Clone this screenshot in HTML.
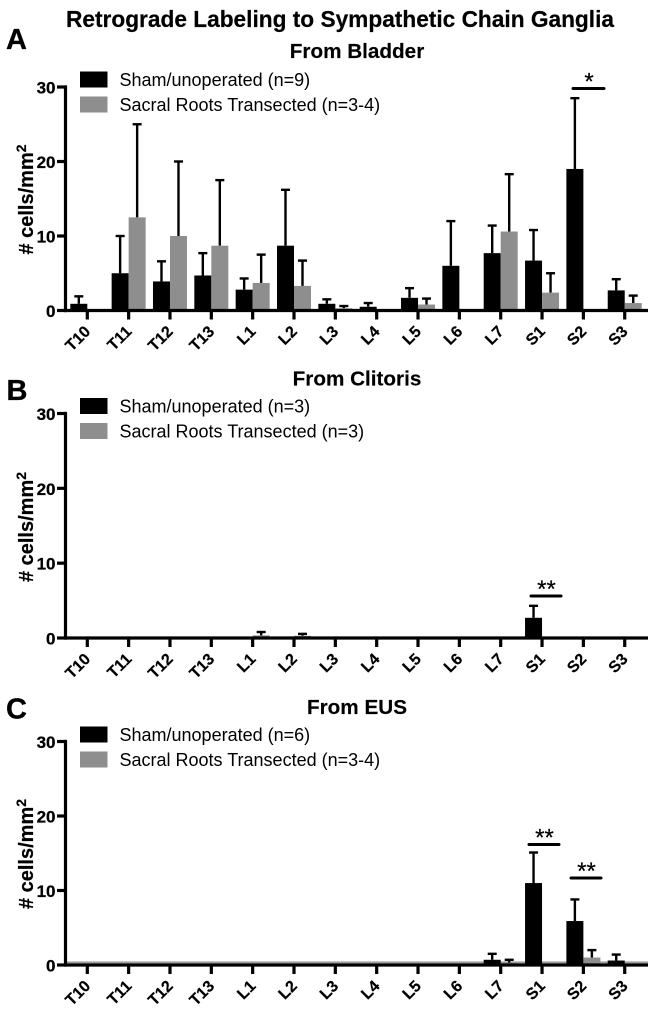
<!DOCTYPE html>
<html lang="en">
<head>
<meta charset="utf-8">
<title>Retrograde Labeling to Sympathetic Chain Ganglia</title>
<style>
html,body{margin:0;padding:0;background:#fff;width:652px;height:1017px;overflow:hidden}
svg{display:block}
text{font-family:"Liberation Sans",sans-serif;fill:#000}
</style>
</head>
<body>
<svg id="fig" xmlns="http://www.w3.org/2000/svg" width="652" height="1017" viewBox="0 0 652 1017">
<text x="340" y="27" text-anchor="middle" font-size="22.7" font-weight="700" stroke="#000" stroke-width="0.2" textLength="548" lengthAdjust="spacingAndGlyphs">Retrograde Labeling to Sympathetic Chain Ganglia</text>
</svg>
<script>
const categories = ["T10","T11","T12","T13","L1","L2","L3","L4","L5","L6","L7","S1","S2","S3"];
const yTicks = [0,10,20,30];

const bladderSham    = [0.9,5,3.9,4.7,2.8,8.7,0.9,0.5,1.7,6,7.7,6.7,19,2.7];
const bladderShamErr = [1.0,5,2.7,3.0,1.5,7.5,0.6,0.5,1.3,6,3.7,4.1,9.5,1.5];
const bladderCut     = [0,12.5,10,8.7,3.7,3.3,0.3,0,0.8,0,10.6,2.4,0,1];
const bladderCutErr  = [0,12.5,10,8.8,3.8,3.4,0.3,0,0.8,0,7.7,2.6,0,1];

const clitorisSham    = [0,0,0,0,0.1,0.2,0,0,0,0,0,2.7,0,0];
const clitorisShamErr = [0,0,0,0,0,0,0,0,0,0,0,1.6,0,0];
const clitorisCut     = [0,0,0,0,0.35,0.3,0,0,0,0,0,0,0,0];
const clitorisCutErr  = [0,0,0,0,0.45,0.25,0,0,0,0,0,0,0,0];

const eusSham    = [0,0,0,0,0,0,0,0,0,0,0.7,11,5.9,0.6];
const eusShamErr = [0,0,0,0,0,0,0,0,0,0,0.8,4.1,2.9,0.8];
const eusCut     = [0,0,0,0,0,0,0,0,0,0,0.3,0,1,0];
const eusCutErr  = [0,0,0,0,0,0,0,0,0,0,0.4,0,1,0];

const SVGNS = "http://www.w3.org/2000/svg";
const fig = document.getElementById("fig");
const BLACK = "#000";
const GRAY = "#8e8e8e";

function mk(tag, attrs, parent, txt){
  const el = document.createElementNS(SVGNS, tag);
  for (const k in attrs) el.setAttribute(k, attrs[k]);
  if (txt !== undefined) el.textContent = txt;
  (parent || fig).appendChild(el);
  return el;
}

function drawPanel(p){
  const g = mk("g", {});
  
  
  const yScale = v => p.y0 - v * (p.y0 - p.y30) / 30;
  const xScale = i => 87.3 + i * 41.34;
  const BW = 17;

  const letter = mk("text", {x:p.letterX, y:p.letterY, "font-size":29, "font-weight":700, stroke:"#000", "stroke-width":0.3}, g, p.letter);
  
  

  const title = mk("text", {x:357, y:p.titleY, "text-anchor":"middle", "font-size":20.7, "font-weight":700, stroke:"#000", "stroke-width":0.15}, g, p.title);
  
  

  // legend
  const l1 = mk("rect", {x:80, y:p.legY, width:27.5, height:16, fill:BLACK}, g);
  
  
  const t1 = mk("text", {x:119.5, y:p.legY + 14.5, "font-size":18, fill:"#111"}, g, p.leg1);
  
  
  const l2 = mk("rect", {x:80, y:p.legY + 25, width:27.5, height:16, fill:GRAY}, g);
  
  
  const t2 = mk("text", {x:119.5, y:p.legY + 39.5, "font-size":18, fill:"#111"}, g, p.leg2);
  
  

  if (p.haze){
    const hz = mk("line", {x1:66, x2:648, y1:p.y0 - 2.6, y2:p.y0 - 2.6, stroke:"#a0a0a0", "stroke-width":2}, g);
    
    
  }

  // bars and error bars
  function series(vals, errs, color, side, name){
    vals.forEach((v, i) => {
      const cx = xScale(i);
      const x0 = side === 0 ? cx - BW : cx;
      const mid = x0 + BW / 2;
      if (errs[i] > 0){
        const top = yScale(v + errs[i]);
        const ev = mk("line", {x1:mid, x2:mid, y1:yScale(v), y2:top, stroke:"#000", "stroke-width":2.4}, g);
        
        
        const cap = mk("line", {x1:mid - 4.5, x2:mid + 4.5, y1:top, y2:top, stroke:"#000", "stroke-width":2.4}, g);
        
        
      }
      if (v > 0){
        const r = mk("rect", {x:x0, y:yScale(v), width:BW, height:p.y0 - yScale(v), fill:color}, g);
        
        
      }
    });
  }
  series(p.sham, p.shamErr, BLACK, 0, "sham");
  series(p.cut, p.cutErr, GRAY, 1, "transected");

  // axes
  const xa = mk("line", {x1:65, x2:648, y1:p.y0, y2:p.y0, stroke:"#000", "stroke-width":3.2}, g);
  
  
  const ya = mk("line", {x1:65.5, x2:65.5, y1:p.y30 - 1.6, y2:p.y0 + 1.6, stroke:"#000", "stroke-width":3.2}, g);
  
  

  yTicks.forEach(v => {
    const tk = mk("line", {x1:57, x2:66, y1:yScale(v), y2:yScale(v), stroke:"#000", "stroke-width":3.2}, g);
    
    
    const lb = mk("text", {x:55.5, y:yScale(v) + 6.5, "text-anchor":"end", "font-size":17, "font-weight":700, stroke:"#000", "stroke-width":0.25}, g, String(v));
    
    
  });

  categories.forEach((c, i) => {
    const x = xScale(i);
    const tk = mk("line", {x1:x, x2:x, y1:p.y0, y2:p.y0 + 9, stroke:"#000", "stroke-width":3.2}, g);
    
    
    const ly = p.y0 + 22;
    const lx = x + 4;
    const lb = mk("text", {x:lx, y:ly, "text-anchor":"end", "font-size":16, "font-weight":700, stroke:"#000", "stroke-width":0.2, transform:"rotate(-45 " + lx + " " + ly + ")"}, g, c);
    
    
  });

  // y title
  const yc = p.y0 - 111;
  const yt = mk("text", {x:33, y:yc, "text-anchor":"middle", "font-size":20, "font-weight":700, stroke:"#000", "stroke-width":0.2, transform:"rotate(-90 33 " + yc + ")"}, g, "# cells/mm");
  
  
  const sup = mk("tspan", {dy:-7, "font-size":14}, yt, "2");
  
  

  // significance markers
  p.sig.forEach(s => {
    const b = mk("line", {x1:s.x1, x2:s.x2, y1:s.y, y2:s.y, stroke:"#000", "stroke-width":3, "stroke-linecap":"round"}, g);
    
    
    const st = mk("text", {x:(s.x1 + s.x2) / 2 + 0.5, y:s.y + 1, "text-anchor":"middle", "font-size":24, "font-weight":400, stroke:"#000", "stroke-width":0.2}, g, s.label);
    
    
  });
}

drawPanel({key:"a", letter:"A", letterX:6, letterY:49, title:"From Bladder", titleY:58,
  y0:310.5, y30:87, legY:71.5, leg1:"Sham/unoperated (n=9)", leg2:"Sacral Roots Transected (n=3-4)",
  sham:bladderSham, shamErr:bladderShamErr, cut:bladderCut, cutErr:bladderCutErr,
  sig:[{x1:573, x2:604, y:88.5, label:"*"}]});

drawPanel({key:"b", letter:"B", letterX:6.5, letterY:400, title:"From Clitoris", titleY:385.5,
  y0:638, y30:413.5, legY:398, leg1:"Sham/unoperated (n=3)", leg2:"Sacral Roots Transected (n=3)",
  sham:clitorisSham, shamErr:clitorisShamErr, cut:clitorisCut, cutErr:clitorisCutErr,
  sig:[{x1:531, x2:561, y:596, label:"**"}]});

drawPanel({key:"c", letter:"C", letterX:6, letterY:718.5, title:"From EUS", titleY:714,
  y0:965, y30:741.5, legY:726.5, leg1:"Sham/unoperated (n=6)", leg2:"Sacral Roots Transected (n=3-4)",
  haze:true,
  sham:eusSham, shamErr:eusShamErr, cut:eusCut, cutErr:eusCutErr,
  sig:[{x1:529, x2:559, y:844.5, label:"**"},{x1:571, x2:601, y:878, label:"**"}]});
</script>
</body>
</html>
